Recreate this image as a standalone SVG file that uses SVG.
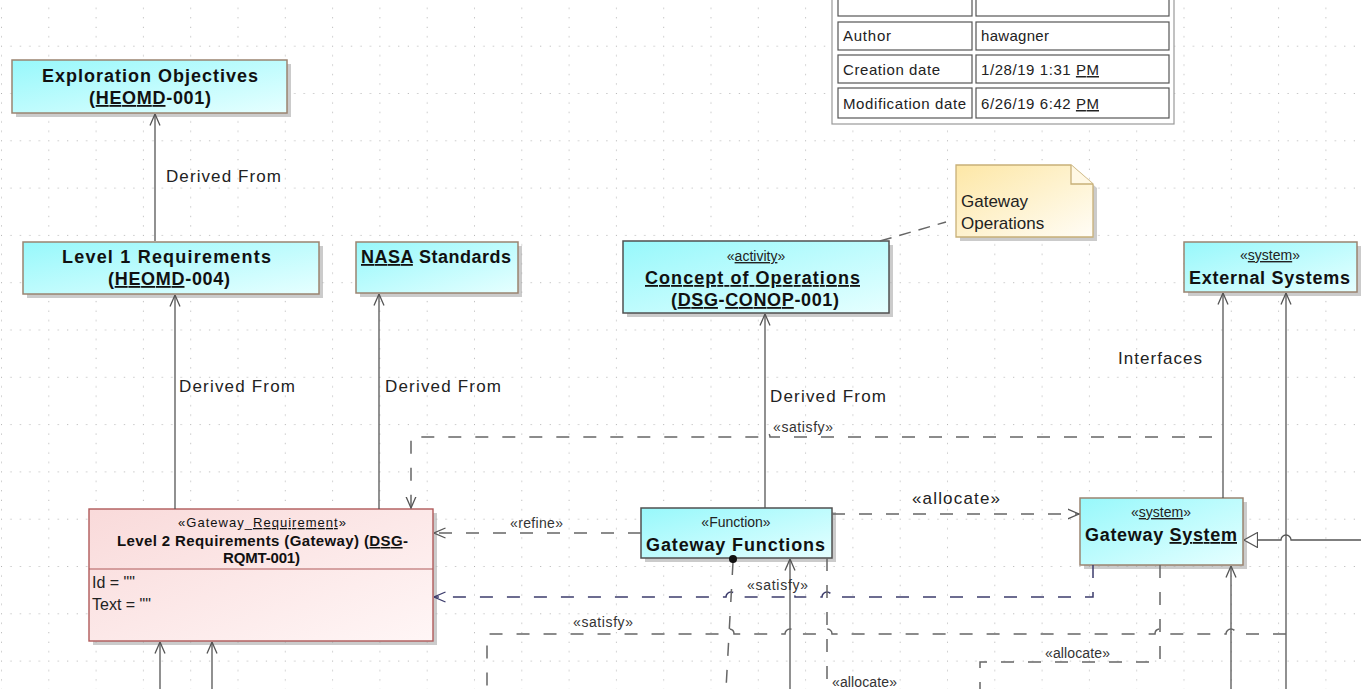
<svg xmlns="http://www.w3.org/2000/svg" width="1361" height="689" viewBox="0 0 1361 689">
<defs>
<pattern id="grid" x="1" y="-1.6" width="47.3" height="47.3" patternUnits="userSpaceOnUse">
<g fill="#b0b0b0">
<rect x="0" y="0" width="1" height="1"/><rect x="9.46" y="0" width="1" height="1"/><rect x="18.92" y="0" width="1" height="1"/><rect x="28.38" y="0" width="1" height="1"/><rect x="37.84" y="0" width="1" height="1"/>
<rect x="0" y="9.46" width="1" height="1"/><rect x="0" y="18.92" width="1" height="1"/><rect x="0" y="28.38" width="1" height="1"/><rect x="0" y="37.84" width="1" height="1"/>
</g>
</pattern>
<linearGradient id="cy" x1="0" y1="0" x2="1" y2="1">
<stop offset="0" stop-color="#97f8fb"/><stop offset="1" stop-color="#e6ffff"/>
</linearGradient>
<linearGradient id="pk" x1="0" y1="0" x2="1" y2="1">
<stop offset="0" stop-color="#f9dada"/><stop offset="1" stop-color="#fff6f6"/>
</linearGradient>
<linearGradient id="yl" x1="0" y1="0" x2="1" y2="1">
<stop offset="0" stop-color="#fde7a6"/><stop offset="1" stop-color="#fffdf6"/>
</linearGradient>
<marker id="oa" viewBox="0 0 12 12" refX="11.5" refY="6" markerWidth="12" markerHeight="12" orient="auto" markerUnits="userSpaceOnUse">
<path d="M0,1 L11.5,6 L0,11" fill="none" stroke="#555" stroke-width="1.3" stroke-dasharray="none"/>
</marker>
<marker id="oan" viewBox="0 0 12 12" refX="11.5" refY="6" markerWidth="12" markerHeight="12" orient="auto" markerUnits="userSpaceOnUse">
<path d="M0,1 L11.5,6 L0,11" fill="none" stroke="#3c3c6c" stroke-width="1.3" stroke-dasharray="none"/>
</marker>
<marker id="tri" viewBox="0 0 14 16" refX="14" refY="8" markerWidth="14" markerHeight="16" orient="auto" markerUnits="userSpaceOnUse">
<path d="M0.5,0.5 L14,8 L0.5,15.5 Z" fill="#fff" stroke="#555" stroke-width="1.2" stroke-dasharray="none"/>
</marker>
<style>
text{font-family:"Liberation Sans",Arial,sans-serif;fill:#111}
.b{font-weight:bold;font-size:18px}
.st{font-size:14px;fill:#222}
.lb{font-size:17px;fill:#222}
.sm{font-size:14px;fill:#333}
.tb{font-size:15px;fill:#222}
.u{text-decoration:underline}
.sh{fill:#a8a8a8;opacity:0.6}
.cyb{fill:url(#cy);stroke:#9a8470;stroke-width:1.5}
.cyd{fill:url(#cy);stroke:#505050;stroke-width:1.5}
.sol{fill:none;stroke:#555;stroke-width:1.3}
.dsh{fill:none;stroke:#666;stroke-width:1.5;stroke-dasharray:13 14}
.nav{fill:none;stroke:#3c3c6c;stroke-width:1.5;stroke-dasharray:13 14}
.cell{fill:#fff;stroke:#555;stroke-width:1.2}
</style>
</defs>
<rect width="1361" height="689" fill="#fff"/>
<rect width="1361" height="689" fill="url(#grid)"/>

<g id="info-table">
<rect x="832" y="-5" width="342" height="129" fill="#fff" stroke="#999" stroke-width="1.2"/>
<rect class="cell" x="838" y="-10" width="134" height="26"/>
<rect class="cell" x="976" y="-10" width="193" height="26"/>
<rect class="cell" x="838" y="22" width="134" height="28"/>
<rect class="cell" x="976" y="22" width="193" height="28"/>
<rect class="cell" x="838" y="55" width="134" height="28"/>
<rect class="cell" x="976" y="55" width="193" height="28"/>
<rect class="cell" x="838" y="88" width="134" height="30"/>
<rect class="cell" x="976" y="88" width="193" height="30"/>
<text class="tb" x="843" y="41" textLength="48" lengthAdjust="spacing">Author</text>
<text class="tb" x="981" y="41" textLength="68" lengthAdjust="spacing">hawagner</text>
<text class="tb" x="843" y="75" textLength="97" lengthAdjust="spacing">Creation date</text>
<text class="tb" x="981" y="75" textLength="118" lengthAdjust="spacing">1/28/19 1:31 <tspan class="u">PM</tspan></text>
<text class="tb" x="843" y="109" textLength="123" lengthAdjust="spacing">Modification date</text>
<text class="tb" x="981" y="109" textLength="118" lengthAdjust="spacing">6/26/19 6:42 <tspan class="u">PM</tspan></text>
</g>

<g id="exploration-objectives">
<rect class="sh" x="16" y="64" width="275" height="53"/>
<rect class="cyb" x="12" y="60" width="275" height="53"/>
<text class="b" x="42" y="82" textLength="216" lengthAdjust="spacing">Exploration Objectives</text>
<text class="b" x="89" y="104" textLength="122" lengthAdjust="spacing">(<tspan class="u">HEOMD</tspan>-001)</text>
</g>

<g id="level1-requirements">
<rect class="sh" x="27" y="246" width="296" height="52"/>
<rect class="cyb" x="23" y="242" width="296" height="52"/>
<text class="b" x="62" y="263" textLength="209" lengthAdjust="spacing">Level 1 Requirements</text>
<text class="b" x="108" y="285" textLength="122" lengthAdjust="spacing">(<tspan class="u">HEOMD</tspan>-004)</text>
</g>

<g id="nasa-standards">
<rect class="sh" x="360" y="246" width="162" height="51"/>
<rect class="cyb" x="356" y="242" width="162" height="51"/>
<text class="b" x="361" y="263" textLength="150" lengthAdjust="spacing"><tspan class="u">NASA</tspan> Standards</text>
</g>

<g id="concept-of-operations">
<rect class="sh" x="627" y="245" width="266" height="72"/>
<rect class="cyd" x="623" y="241" width="266" height="72"/>
<text class="st" x="756" y="261" text-anchor="middle">«<tspan class="u">activity</tspan>»</text>
<text class="b" x="645" y="284" textLength="215" lengthAdjust="spacing"><tspan class="u">Concept of Operations</tspan></text>
<text class="b" x="671" y="306" textLength="168" lengthAdjust="spacing">(<tspan class="u">DSG</tspan>-<tspan class="u">CONOP</tspan>-001)</text>
</g>

<g id="note-gateway-operations">
<path d="M960,169 H1075 L1097,188 V241 H960 Z" class="sh"/>
<path d="M956,165 H1071 L1093,184 V237 H956 Z" fill="url(#yl)" stroke="#c8b078" stroke-width="1.3"/>
<path d="M1071,165 V184 H1093" fill="#fff8e4" stroke="#c8b078" stroke-width="1.3"/>
<text class="lb" x="961" y="207">Gateway</text>
<text class="lb" x="961" y="229">Operations</text>
</g>

<g id="external-systems">
<rect class="sh" x="1188" y="246" width="173" height="50"/>
<rect class="cyb" x="1184" y="242" width="173" height="50"/>
<text class="st" x="1270" y="260" text-anchor="middle">«<tspan class="u">system</tspan>»</text>
<text class="b" x="1189" y="284" textLength="161" lengthAdjust="spacing">External Systems</text>
</g>

<g id="level2-requirements">
<rect class="sh" x="93" y="513" width="344" height="132"/>
<rect x="89" y="509" width="344" height="132" fill="url(#pk)" stroke="#b05a5a" stroke-width="1.4"/>
<line x1="89" y1="569" x2="433" y2="569" stroke="#b05a5a" stroke-width="1.2"/>
<text x="178" y="527" style="font-size:13px" textLength="168" lengthAdjust="spacing">«Gateway_<tspan class="u">Requirement</tspan>»</text>
<text x="117" y="546" style="font-size:15px;font-weight:bold" textLength="291" lengthAdjust="spacing">Level 2 Requirements (Gateway) (<tspan class="u">DSG</tspan>-</text>
<text x="223" y="563" style="font-size:15px;font-weight:bold" textLength="77" lengthAdjust="spacing">RQMT-001)</text>
<text class="lb" x="92" y="588" style="font-size:16px">Id = ""</text>
<text class="lb" x="92" y="610" style="font-size:16px">Text = ""</text>
</g>

<g id="gateway-functions">
<rect class="sh" x="645" y="512" width="191" height="50"/>
<rect class="cyd" x="641" y="508" width="191" height="50"/>
<text class="st" x="736" y="527" text-anchor="middle">«Function»</text>
<text class="b" x="646" y="551" textLength="179" lengthAdjust="spacing">Gateway Functions</text>
</g>

<g id="gateway-system">
<rect class="sh" x="1084" y="502" width="163" height="67"/>
<rect class="cyb" x="1080" y="498" width="163" height="67"/>
<text class="st" x="1161" y="517" text-anchor="middle">«<tspan class="u">system</tspan>»</text>
<text class="b" x="1085" y="541" textLength="152" lengthAdjust="spacing">Gateway <tspan class="u">System</tspan></text>
</g>

<g id="connectors">
<path class="sol" d="M155,241 V114" marker-end="url(#oa)"/>
<path class="sol" d="M175,509 V295" marker-end="url(#oa)"/>
<path class="sol" d="M379,509 V294" marker-end="url(#oa)"/>
<path class="sol" d="M765,508 V314" marker-end="url(#oa)"/>
<path class="sol" d="M1223,498 V293" marker-end="url(#oa)"/>
<path class="sol" d="M1286,689 V293" marker-end="url(#oa)"/>
<path class="sol" d="M1361,540 H1291 A5,5 0 0 0 1281,540 H1244" marker-end="url(#tri)"/>
<path class="sol" d="M1231,689 V566" marker-end="url(#oa)"/>
<path class="sol" d="M790,689 V559" marker-end="url(#oa)"/>
<path class="sol" d="M160,689 V642" marker-end="url(#oa)"/>
<path class="sol" d="M212,689 V642" marker-end="url(#oa)"/>
<path class="dsh" d="M880,241 L946,222" style="stroke-dasharray:12 8"/>
<path class="dsh" d="M1212,437 H770 A5,5 0 0 0 760,437 H411 V508" marker-end="url(#oa)"/>
<path class="dsh" d="M641,533 H434" marker-end="url(#oa)"/>
<path class="dsh" d="M832,514 H1079" marker-end="url(#oa)"/>
<path class="nav" d="M1093,565 V597 H832 A5,5 0 0 0 822,597 H795 A5,5 0 0 0 785,597 H736 A5,5 0 0 0 726,597 H434" marker-end="url(#oan)"/>
<path class="dsh" d="M733,562 L726,689"/>
<circle cx="733" cy="559" r="4" fill="#111"/>
<path class="dsh" d="M827,558 V689"/>
<path class="dsh" d="M1286,634 H1236 A5,5 0 0 0 1226,634 H1165 A5,5 0 0 0 1155,634 H832 A5,5 0 0 0 822,634 H795 A5,5 0 0 0 785,634 H734 A5,5 0 0 0 724,634 H487 V689"/>
<path class="dsh" d="M1160,565 V662 H980 V689"/>
<text class="lb" x="166" y="182" textLength="115" lengthAdjust="spacing">Derived From</text>
<text class="lb" x="179" y="392" textLength="116" lengthAdjust="spacing">Derived From</text>
<text class="lb" x="385" y="392" textLength="116" lengthAdjust="spacing">Derived From</text>
<text class="lb" x="770" y="402" textLength="116" lengthAdjust="spacing">Derived From</text>
<text class="lb" x="1118" y="364" textLength="84" lengthAdjust="spacing">Interfaces</text>
<text class="sm" x="773" y="432" textLength="60" lengthAdjust="spacing">«satisfy»</text>
<text class="lb" x="912" y="504" textLength="88" lengthAdjust="spacing">«allocate»</text>
<text class="sm" x="510" y="528" textLength="53" lengthAdjust="spacing">«refine»</text>
<text class="sm" x="747" y="590" textLength="61" lengthAdjust="spacing">«satisfy»</text>
<text class="sm" x="573" y="627" textLength="60" lengthAdjust="spacing">«satisfy»</text>
<text class="sm" x="1045" y="658" textLength="65" lengthAdjust="spacing">«allocate»</text>
<text class="sm" x="832" y="687" textLength="65" lengthAdjust="spacing">«allocate»</text>
</g>
</svg>
